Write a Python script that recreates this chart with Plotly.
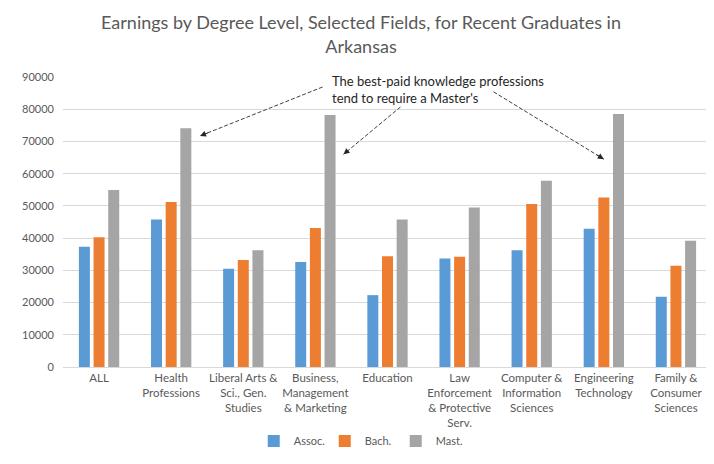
import plotly.graph_objects as go

# categories (x axis labels, wrapped as in the original)
fields = [
    "ALL",
    "Health<br>Professions",
    "Liberal Arts &<br>Sci., Gen.<br>Studies",
    "Business,<br>Management<br>& Marketing",
    "Education",
    "Law<br>Enforcement<br>& Protective<br>Serv.",
    "Computer &<br>Information<br>Sciences",
    "Engineering<br>Technology",
    "Family &<br>Consumer<br>Sciences",
]

assoc = [37300, 45800, 30500, 32600, 22300, 33700, 36200, 42900, 21800]
bach = [40300, 51200, 33200, 43100, 34400, 34200, 50600, 52600, 31400]
mast = [54900, 74100, 36200, 78200, 45800, 49500, 57800, 78500, 39200]

y_ticks = list(range(0, 90001, 10000))

# arrows: (tail x, tail y, head x, head y) in axis units
arrows = [
    (3.10, 86900, 1.40, 71700),
    (4.18, 80700, 3.39, 66000),
    (5.47, 85400, 7.00, 64500),
]

FONT = "Lato, Open Sans, sans-serif"
GREY_TXT = "#595959"

fig = go.Figure()
for name, vals, color in [
    ("Assoc.", assoc, "#5B9BD5"),
    ("Bach.", bach, "#ED7D31"),
    ("Mast.", mast, "#A5A5A5"),
]:
    fig.add_trace(go.Bar(x=fields, y=vals, name=name, marker=dict(color=color, line_width=0)))

# dashed arrow shafts + small arrowheads
for tx, ty, hx, hy in arrows:
    fig.add_shape(
        type="line", xref="x", yref="y",
        x0=tx, y0=ty, x1=hx, y1=hy,
        line=dict(color="#404040", width=1, dash="4px,2px"),
    )
    fig.add_annotation(
        x=hx, y=hy, xref="x", yref="y",
        ax=hx + 0.08 * (tx - hx), ay=hy + 0.08 * (ty - hy),
        axref="x", ayref="y",
        text="", showarrow=True, arrowhead=2, arrowsize=1.2,
        arrowwidth=1, arrowcolor="#262626",
    )

fig.add_annotation(
    x=0.411, y=1.021, xref="paper", yref="paper",
    xanchor="left", yanchor="top", align="left",
    text="The best-paid knowledge professions<br>tend to require a Master's",
    showarrow=False, font=dict(family=FONT, size=13, color="#262626"),
)

# page body has an 8px margin, so the figure is sized to fit inside it
fig.update_layout(
    width=706, height=456,
    margin=dict(l=55, r=2, t=69, b=97),
    paper_bgcolor="white", plot_bgcolor="white",
    font=dict(family=FONT, size=11, color=GREY_TXT),
    title=dict(
        text="Earnings by Degree Level, Selected Fields, for Recent Graduates in<br>Arkansas",
        x=0.5, xanchor="center", y=0.953, yanchor="middle",
        font=dict(family=FONT, size=18, color=GREY_TXT),
    ),
    barmode="group", bargap=0.39, bargroupgap=0.25,
    legend=dict(
        orientation="h", x=0.458, xanchor="center", y=-0.255, yanchor="middle",
        font=dict(size=11, color=GREY_TXT), itemwidth=30,
        entrywidth=26, entrywidthmode="pixels",
        bgcolor="rgba(0,0,0,0)",
    ),
    showlegend=True,
)
fig.update_xaxes(
    tickangle=0, showgrid=False, showline=True, linecolor="#D9D9D9",
    tickfont=dict(size=11.5, color=GREY_TXT),
)
fig.update_yaxes(
    range=[0, 90000], tickvals=y_ticks, tickformat="d", showgrid=True,
    gridcolor="#D9D9D9", zeroline=False,
    tickfont=dict(size=11, color=GREY_TXT), ticklabelstandoff=8,
)

fig.write_html("out.html")
